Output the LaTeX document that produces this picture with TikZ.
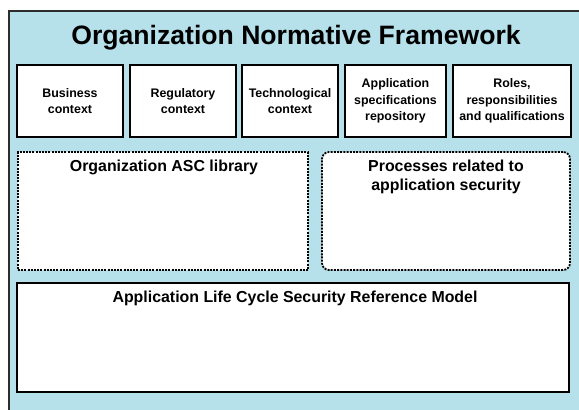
\documentclass[tikz,border=0pt]{standalone}
\usepackage{fontspec}
\setmainfont{Liberation Sans}
\usetikzlibrary{positioning}
\definecolor{bgblue}{RGB}{182,224,234}
\definecolor{frameline}{RGB}{45,45,45}
\tikzset{
  smallbox/.style={draw=black, line width=2.6pt, fill=white, inner sep=0pt, align=center,
    font=\fontsize{12.4}{16.5}\selectfont\bfseries},
  bigbox/.style={draw=black, line width=2.6pt, fill=white, inner sep=0pt},
  dashbox/.style={draw=black, line width=1.8pt, fill=white, inner sep=0pt, dash pattern=on 2pt off 1.2pt},
  boxtitle/.style={align=center, font=\fontsize{15.9}{19}\selectfont\bfseries, anchor=north, inner sep=0pt}
}
\begin{document}
\begin{tikzpicture}[x=1pt,y=-1pt]
\useasboundingbox (0,0) rectangle (579,410);
\fill[white] (0,0) rectangle (579,410);
% outer frame
\node[draw=frameline, line width=1.6pt, fill=bgblue, minimum width=600pt, minimum height=430pt, anchor=north west, inner sep=0pt] (frame) at (8,10) {};
\node[font=\fontsize{26.6}{30}\selectfont\bfseries, inner sep=0pt] (title) at (296,38) {Organization Normative Framework};
% small boxes
\node[smallbox, minimum width=106pt, minimum height=72pt] (b1) at (70,101) {Business\\context};
\node[smallbox, minimum width=106pt, minimum height=72pt] (b2) at (183,101) {Regulatory\\context};
\node[smallbox, minimum width=96pt, minimum height=72pt] (b3) at (290,101) {Technological\\context};
\node[smallbox, minimum width=101pt, minimum height=72pt] (b4) at (395.5,101) {Application\\specifications\\repository};
\node[smallbox, minimum width=118pt, minimum height=72pt] (b5) at (512,101) {Roles,\\responsibilities\\and qualifications};
% dashed boxes
\node[dashbox, minimum width=290pt, minimum height=118pt] (lib) at (163,211) {};
\node[boxtitle] (libt) at (164,159.5) {Organization ASC library};
\node[dashbox, rounded corners=7pt, minimum width=248pt, minimum height=118pt] (proc) at (446,211) {};
\node[boxtitle] (proct) at (446,159.5) {Processes related to\\application security};
% bottom box
\node[bigbox, minimum width=552pt, minimum height=109pt] (alc) at (293,337.5) {};
\node[boxtitle] (alct) at (295,291) {Application Life Cycle Security Reference Model};
\end{tikzpicture}
\end{document}
